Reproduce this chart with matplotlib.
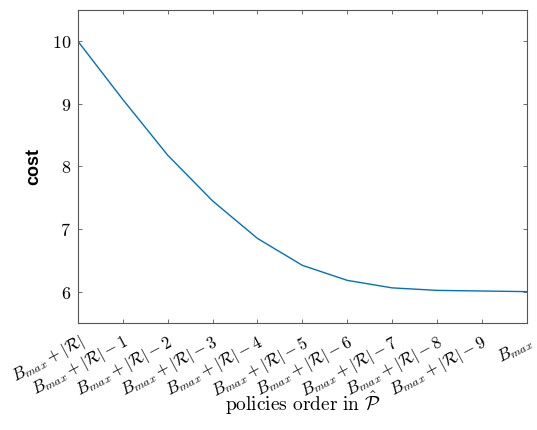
import numpy as np
import matplotlib
matplotlib.use('Agg')
import matplotlib.pyplot as plt

plt.rcParams['mathtext.fontset'] = 'cm'

# policy index and cost
policy_idx = np.arange(1, 12)
cost = [10.0, 9.07, 8.18, 7.45, 6.85, 6.42, 6.18, 6.06, 6.02, 6.01, 6.0]
tick_labels = [r'$B_{max}+|\mathcal{R}|$'] + \
    [r'$B_{max}+|\mathcal{R}|-%d$' % k for k in range(1, 10)] + [r'$B_{max}$']
y_ticks = [6, 7, 8, 9, 10]

fig = plt.figure(figsize=(5.37, 4.30), dpi=100)
ax = fig.add_axes([0.145, 0.249, 0.836, 0.728])
ax.plot(policy_idx, cost, color='#0072BD', linewidth=1.0)

ax.set_xlim(1, 11)
ax.set_ylim(5.5, 10.5)
ax.set_xticks(policy_idx)
ax.set_xticklabels(tick_labels, rotation=28, ha='right', rotation_mode='anchor', fontsize=12)
ax.set_yticks(y_ticks)
ax.set_yticklabels([r'$%d$' % v for v in y_ticks], fontsize=13)

for s in ax.spines.values():
    s.set_color('#555555')
    s.set_linewidth(0.8)
ax.tick_params(direction='in', length=3, width=0.6, color='#555555',
               top=True, right=True)
ax.tick_params(axis='x', pad=7)
ax.tick_params(axis='y', pad=5)

ax.set_ylabel('cost', fontsize=13, fontweight='bold', family='Liberation Sans')
ax.yaxis.set_label_coords(-0.08, 0.5)
ax.set_xlabel(r'$\mathrm{policies\ order\ in}\ \hat{\mathcal{P}}$', fontsize=14)
ax.xaxis.set_label_coords(0.5, -0.256)
ax.xaxis.label.set_va('center')

plt.savefig('out.png', dpi=100)
